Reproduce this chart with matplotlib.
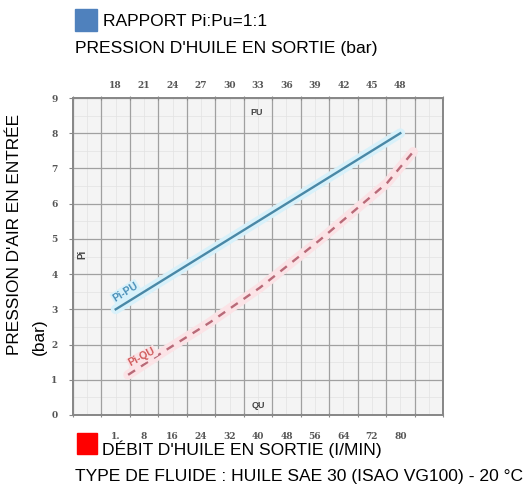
import matplotlib
matplotlib.use("Agg")
import matplotlib.pyplot as plt
from matplotlib.patches import Rectangle
from matplotlib.ticker import FixedLocator

# top axis: oil outlet pressure (bar)
pu_ticks = [18, 21, 24, 27, 30, 33, 36, 39, 42, 45, 48]
# bottom axis: oil flow (l/min)
qu_ticks = [0, 8, 16, 24, 32, 40, 48, 56, 64, 72, 80]
qu_labels = ["1.", "8", "16", "24", "32", "40", "48", "56", "64", "72", "80"]
pi_ticks = list(range(10))

# Pi-PU curve (outlet pressure vs inlet air pressure)
pu_x = [18, 33, 48]
pu_y = [3.0, 5.5, 8.0]
# Pi-QU curve (flow vs inlet air pressure)
qu_x = [3.5, 13.3, 26.5, 40.6, 57.4, 76.3, 83.6]
qu_y = [1.14, 1.79, 2.63, 3.62, 4.97, 6.59, 7.47]

plt.rcParams['font.family'] = ['Liberation Sans', 'DejaVu Sans']

fig = plt.figure(figsize=(5.28, 4.87), dpi=100)
ax = fig.add_axes([73 / 528, 1 - 415 / 487, 370 / 528, 317 / 487])
ax.set_facecolor("#f4f4f4")
ax.set_xlim(-12, 92)
ax.set_ylim(0, 9)

top = ax.twiny()
top.set_xlim(13.5, 52.5)

grid_color = "#a0a0a0"
spine_color = "#888888"
tick_font = dict(fontsize=6.5, fontweight="bold", color="#555555", family="DejaVu Serif")

# cell grid (every 8 l/min on the bottom scale)
ax.xaxis.set_major_locator(FixedLocator([-12 + 8 * k for k in range(14)]))
ax.xaxis.set_minor_locator(FixedLocator(qu_ticks))
ax.set_xticklabels([])
ax.set_xticklabels(qu_labels, minor=True, **tick_font)
ax.tick_params(axis="x", which="major", length=3, direction="inout", color=spine_color)
ax.tick_params(axis="x", which="minor", length=0, pad=12)

ax.set_yticks(pi_ticks)
ax.set_yticklabels([str(v) for v in pi_ticks], **tick_font)
ax.tick_params(axis="y", length=3, direction="out", color=spine_color, pad=8)
ax.grid(True, which="major", color=grid_color, lw=0.9)
# faint half-cell lines
for k in range(13):
    ax.axvline(-8 + 8 * k, color="#e2e2e2", lw=0.5, zorder=0)
for v in range(9):
    ax.axhline(v + 0.5, color="#e2e2e2", lw=0.5, zorder=0)

top.xaxis.set_major_locator(FixedLocator([13.5 + 3 * k for k in range(14)]))
top.xaxis.set_minor_locator(FixedLocator(pu_ticks))
top.set_xticklabels([])
top.set_xticklabels([str(v) for v in pu_ticks], minor=True, **tick_font)
top.tick_params(axis="x", which="major", length=3, direction="inout", color=spine_color)
top.tick_params(axis="x", which="minor", length=0, pad=6)

for a in (ax, top):
    for s in a.spines.values():
        s.set_color(spine_color)
        s.set_linewidth(1.3)

# curves with light halo
top.plot(pu_x, pu_y, color="#d8f1fa", lw=7, solid_capstyle="round", zorder=2)
top.plot(pu_x, pu_y, color="#4a88a6", lw=1.7, zorder=3)
ax.plot(qu_x, qu_y, color="#fbe3e6", lw=7, solid_capstyle="round", zorder=2)
ax.plot(qu_x, qu_y, color="#b86a78", lw=1.7, ls=(0, (3.5, 3)), zorder=3)

top.text(19.0, 3.5, "Pi-PU", color="#4a8fb8", fontsize=7.5, fontweight="bold",
         rotation=32, ha="center", va="center",
         bbox=dict(boxstyle="round,pad=0.1", fc="#d8f1fa", ec="none"))
ax.text(7.4, 1.64, "Pi-QU", color="#cf5a5a", fontsize=7.5, fontweight="bold",
        rotation=28, ha="center", va="center",
        bbox=dict(boxstyle="round,pad=0.1", fc="#fbe3e6", ec="none"))
ax.text(39.5, 8.6, "PU", fontsize=6.5, fontweight="bold", color="#444444", ha="center", va="center")
ax.text(40, 0.28, "QU", fontsize=6.5, fontweight="bold", color="#444444", ha="center", va="center")
ax.text(-9.4, 4.55, "Pi", fontsize=7, fontweight="bold", color="#444444", rotation=90,
        ha="center", va="center")

# header / footer texts
fs = 12.6
fig.patches.append(Rectangle((75 / 528, 1 - 31 / 487), 22 / 528, 22 / 487,
                             transform=fig.transFigure, color="#4f81bd"))
fig.text(103 / 528, 1 - 22 / 487, "RAPPORT Pi:Pu=1:1", fontsize=fs, va="center", ha="left")
fig.text(75 / 528, 1 - 48 / 487, "PRESSION D'HUILE EN SORTIE (bar)", fontsize=fs, va="center", ha="left")
fig.patches.append(Rectangle((77 / 528, 1 - 454 / 487), 20 / 528, 21 / 487,
                             transform=fig.transFigure, color="#ff0000"))
fig.text(102 / 528, 1 - 449 / 487, "DÉBIT D'HUILE EN SORTIE (I/MIN)", fontsize=fs, va="center", ha="left")
fig.text(75 / 528, 1 - 477 / 487, "TYPE DE FLUIDE : HUILE SAE 30 (ISAO VG100) - 20 °C",
         fontsize=fs, va="center", ha="left")

fig.text(15 / 528, 1 - 355 / 487, "PRESSION D'AIR EN ENTRÉE", fontsize=12.4, rotation=90,
         va="bottom", ha="center")
fig.text(39 / 528, 1 - 355 / 487, "(bar)", fontsize=12.4, rotation=90, va="bottom", ha="center")

fig.savefig("out.png", dpi=100)
